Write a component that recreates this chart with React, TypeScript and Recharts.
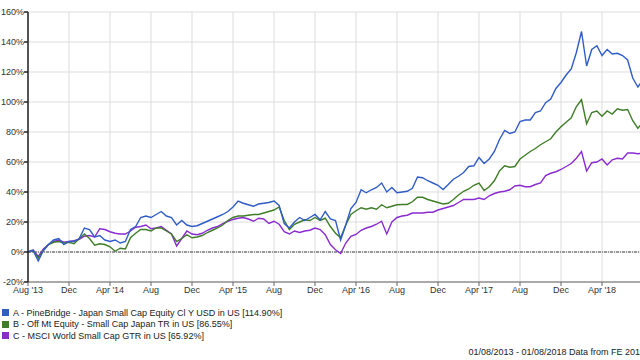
import {
  CartesianGrid,
  Line,
  LineChart,
  ReferenceLine,
  XAxis,
  YAxis,
} from 'recharts';

// half-monthly points, Aug 2013 .. Aug 2018 (index 0..120)
const seriesA = [
  0, 1, -6, 1, 5, 8, 9, 5, 7, 7, 9, 16, 15, 10, 11, 8, 7, 8, 6, 7,
  15, 17, 23, 24, 23, 25, 27, 24, 23, 18, 21, 18, 17, 17.5, 19, 20.5, 22, 23.5, 25, 27,
  30, 34, 32.5, 31.5, 30.5, 32, 32.5, 33, 34, 31, 19, 16, 20, 23, 21, 23, 25, 21.5, 27, 22,
  21, 8, 18, 29, 33, 41.5, 39.5, 41.5, 43, 46, 40, 43, 39.5, 40, 40.5, 42.5, 50, 49.5, 47.5, 46,
  44.5, 41.7, 45, 48.5, 50.5, 53, 57, 57.5, 63, 59, 62, 67, 75, 81, 79, 80, 87, 88, 88, 93,
  94, 99.5, 102, 109, 113, 118, 122, 133, 147, 124, 135, 137.5, 131, 135, 132, 132.5, 131, 128, 116, 110,
  114.9,
];

const seriesB = [
  0, 1, -4, 1, 5, 6.5, 7, 6, 6.5, 5.5, 9, 12, 9, 4.5, 5.5, 5, 3.5, 0.5, 2.5, 2,
  9.5, 12.5, 15, 15, 14, 16, 16, 14, 12, 7, 9, 11.5, 9.5, 10, 11, 13, 14.5, 16, 18, 21,
  23, 24, 24, 24.5, 25, 25, 26, 27, 28, 30, 21, 15, 18.5, 20, 21.5, 21, 23, 21, 22.5, 17,
  12.5, 9.5, 18, 25, 27.5, 29.5, 28.5, 29.5, 28.5, 31.5, 29.5, 30.5, 31.5, 31.7, 31.7, 33.5, 36.5, 36.5, 35, 34,
  33, 32, 32.5, 35, 38, 40.5, 42, 44.5, 46, 41, 43.5, 47.5, 54, 57.5, 56.5, 57, 62, 64.5, 67, 69,
  71.5, 73.5, 75.5, 80, 83.5, 86.5, 89.5, 97, 101.5, 85.5, 93, 94, 90.5, 94, 92, 95.5, 94.5, 95, 87.5, 82.5,
  86.55,
];

const seriesC = [
  0, 1.5, -3, 2, 5, 7, 8, 6.5, 7, 7.5, 8.5, 10.5, 11, 10, 15.5, 15, 13.5, 12.5, 12, 12,
  14, 16.5, 17, 18, 15.5, 16, 17, 14.5, 12, 4, 9, 14, 12, 11.5, 12.5, 14.5, 16, 17, 19, 20.5,
  21.7, 22.5, 23, 22, 20.5, 22.5, 22, 19, 20.5, 18.5, 13.5, 12, 14, 13, 14, 14.5, 16, 15, 11.5, 5,
  1.5, -1, 6, 10.5, 11.7, 14.5, 16, 17, 18.5, 20.5, 12, 20, 23, 24, 24.5, 26, 26, 26, 26.5, 26.5,
  28, 29, 30, 31, 33, 35, 35, 35, 36, 35, 37.5, 39, 40, 40.5, 41.5, 44, 44.5, 43.5, 43.5, 45,
  46, 51, 52.5, 53.5, 55, 57, 59, 62.5, 67, 54, 59.5, 60, 62, 58, 61.5, 62.5, 62, 66, 66, 65.5,
  65.92,
];

const seriesNames = [
  'A - PineBridge - Japan Small Cap Equity Cl Y USD in US [114.90%]',
  'B - Off Mt Equity - Small Cap Japan TR in US [86.55%]',
  'C - MSCI World Small Cap GTR in US [65.92%]',
];
const seriesColors = ['#2f5cc6', '#3f7d27', '#8a2bd0'];

const tickLabels = [
  "Aug '13", 'Dec', "Apr '14", 'Aug', 'Dec', "Apr '15", 'Aug', 'Dec',
  "Apr '16", 'Aug', 'Dec', "Apr '17", 'Aug', 'Dec', "Apr '18",
];
const yTicks = [-20, 0, 20, 40, 60, 80, 100, 120, 140, 160];
const footer = '01/08/2013 - 01/08/2018 Data from FE 201';

const data = seriesA.map((a, i) => ({ idx: i, a, b: seriesB[i], c: seriesC[i] }));
const xTicks = tickLabels.map((_, i) => i * 8);

const font = 'Arial, "Liberation Sans", sans-serif';

export default function App() {
  return (
    <div
      style={{
        position: 'absolute',
        left: 0,
        top: 0,
        width: 640,
        height: 360,
        overflow: 'hidden',
        background: '#fff',
        fontFamily: font,
      }}
    >
      <LineChart
        width={650}
        height={300}
        data={data}
        margin={{ top: 12, right: 7, left: 0, bottom: 0 }}
      >
        <CartesianGrid stroke="#dddddd" />
        <XAxis
          dataKey="idx"
          type="number"
          domain={[0, 120]}
          ticks={xTicks}
          tickFormatter={(v: number) => tickLabels[v / 8]}
          interval={0}
          height={18}
          tickSize={4}
          tickMargin={1}
          stroke="#666"
          tick={{ fontSize: 9, fill: '#333', fontFamily: font }}
        />
        <YAxis
          domain={[-20, 160]}
          ticks={yTicks}
          tickFormatter={(v: number) => `${v}%`}
          width={28}
          tickSize={4}
          tickMargin={0}
          stroke="#222"
          strokeWidth={1.5}
          tick={{ fontSize: 9, fill: '#333', fontFamily: font }}
        />
        <ReferenceLine y={0} stroke="#444" strokeDasharray="3 1 1 1" />
        <Line dataKey="c" stroke={seriesColors[2]} strokeWidth={1.4} dot={false} isAnimationActive={false} />
        <Line dataKey="b" stroke={seriesColors[1]} strokeWidth={1.4} dot={false} isAnimationActive={false} />
        <Line dataKey="a" stroke={seriesColors[0]} strokeWidth={1.4} dot={false} isAnimationActive={false} />
      </LineChart>

      {seriesNames.map((name, i) => (
        <div
          key={name}
          style={{
            position: 'absolute',
            left: 2,
            top: 307 + i * 11.7,
            height: 11,
            display: 'flex',
            alignItems: 'center',
            fontSize: 9,
            color: '#222',
            whiteSpace: 'nowrap',
          }}
        >
          <span style={{ width: 7, height: 7, background: seriesColors[i], marginRight: 4 }} />
          {name}
        </div>
      ))}

      <div
        style={{
          position: 'absolute',
          right: 0,
          top: 347,
          fontSize: 9,
          color: '#222',
          whiteSpace: 'nowrap',
        }}
      >
        {footer}
      </div>
    </div>
  );
}
